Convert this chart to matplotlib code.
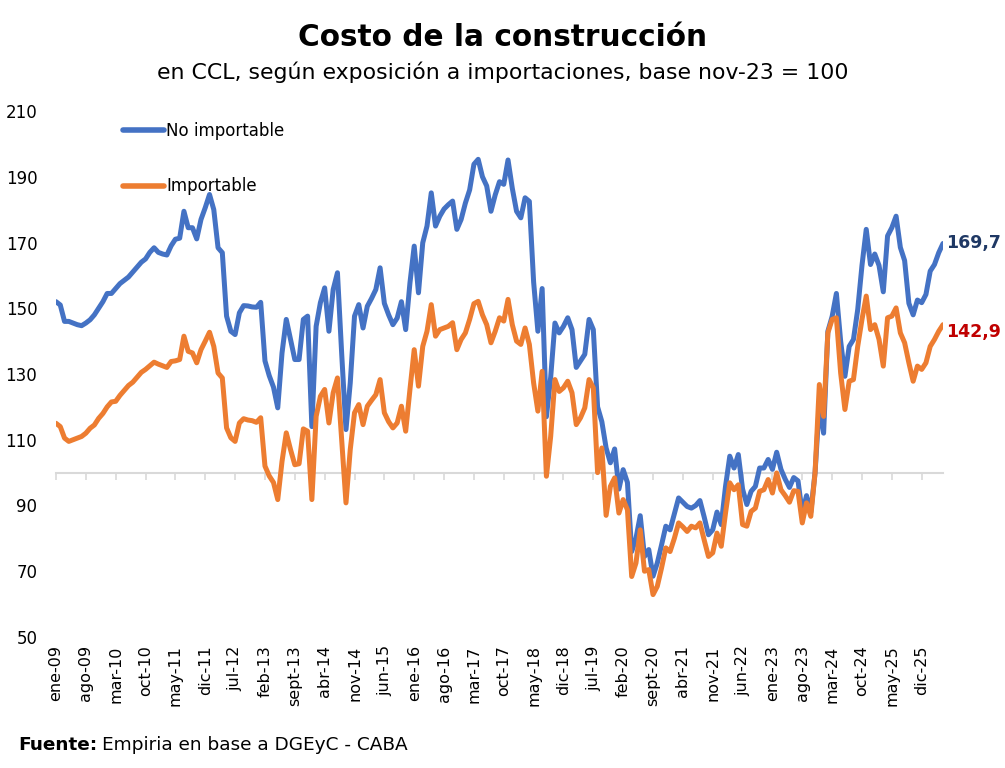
import matplotlib
matplotlib.use("Agg")
import matplotlib.pyplot as plt
import numpy as np

# ---------------- data (monthly, ene-09 .. may-26) ----------------
no_importable = [
    152, 151, 146, 146, 145.5, 145, 144.7, 145.5, 146.5, 148, 150, 152,            # 2009
    154.5, 154.5, 156, 157.5, 158.5, 159.5, 161, 162.5, 164, 165, 167, 168.4,      # 2010
    167, 166.5, 166.2, 169, 171, 171.3, 179.5, 174.5, 174.5, 171.1, 177, 180.6,    # 2011
    184.6, 180, 168.4, 166.9, 147.6, 143, 142, 148.6, 150.8, 150.7, 150.4, 150.3,  # 2012
    151.8, 134, 129.5, 126, 119.7, 136.4, 146.6, 140.5, 134.4, 134.4, 146.6, 147.6,  # 2013
    114, 144.5, 151.7, 156.2, 143, 155.7, 160.8, 136, 113.1, 127.3, 147.6, 151.1,  # 2014
    144, 150.6, 153, 155.7, 162.3, 151.5, 148, 145, 147, 152, 143.5, 157.7,        # 2015
    168.9, 154.7, 169.9, 175, 185.1, 175, 178, 180.2, 181.5, 182.6, 174, 177,      # 2016
    182, 186, 193.8, 195.3, 190, 187.2, 179.5, 184.5, 188.5, 187.7, 195.1, 186.5,  # 2017
    179.5, 177.5, 183.6, 182.5, 158, 143, 156, 117, 129, 145.5, 142.5, 144.5,      # 2018
    147.1, 143.5, 132, 134, 136, 146.6, 143.5, 120, 115.5, 107.5, 103, 107.2,      # 2019
    95, 100.9, 97, 76, 80, 86.9, 74.5, 76.6, 68.5, 72.5, 78, 83.7,                 # 2020
    82.6, 87.5, 92.3, 91, 89.7, 89.2, 90, 91.5, 86.5, 81.1, 82.6, 88,              # 2021
    84.2, 95.8, 105, 101.4, 105.5, 95, 90.3, 94.3, 95.8, 101.4, 101.4, 104,        # 2022
    101, 106.2, 101, 98, 95.5, 98.5, 97.5, 87.7, 93, 88, 100, 121,                 # 2023
    112, 143, 147.5, 154.5, 140, 129.3, 138.4, 140.5, 149.6, 163, 174, 163.3,      # 2024
    166.5, 163, 155, 172, 174.5, 178, 168.5, 164.5, 151.5, 148, 152.5, 151.7,      # 2025
    154.2, 161.3, 163.3, 166.9, 169.7,                                             # 2026
]
importable = [
    115, 114, 110.5, 109.5, 110, 110.5, 111, 112, 113.5, 114.5, 116.5, 118,
    120, 121.5, 121.7, 123.5, 125, 126.5, 127.5, 129, 130.5, 131.4, 132.5, 133.6,
    133, 132.5, 132, 133.8, 134, 134.4, 141.5, 136.9, 136.4, 133.4, 137.4, 140,
    142.7, 138.4, 130.3, 128.8, 113.6, 110.6, 109.5, 115.1, 116.4, 116, 115.8, 115.3,
    116.7, 102, 99, 97, 91.8, 103.4, 112.1, 107, 102.4, 102.7, 113.3, 112.6,
    91.8, 117.1, 123.2, 125.3, 115.1, 124.3, 128.8, 110, 90.8, 107, 118.2, 120.7,
    114.6, 120.2, 122, 123.7, 128.3, 118.2, 115.5, 113.6, 115.1, 120.2, 112.6, 125.3,
    137.4, 126.3, 138.4, 143, 151.1, 141.5, 143.5, 144, 144.5, 145.6, 137.4, 140.5,
    142.5, 146.6, 151.4, 152.1, 148, 145, 139.5, 143, 147.1, 146.1, 152.7, 145,
    140, 139, 144, 139, 127.3, 118.7, 130.8, 98.9, 111, 128.3, 124.7, 125.8,
    127.8, 124.3, 114.6, 116.7, 119.7, 128.3, 125.8, 100, 107.5, 87, 95.8, 98.4,
    87.7, 91.8, 88.7, 68.4, 72.5, 82.6, 70, 70.5, 62.9, 65.4, 71, 77.1,
    76, 80, 84.7, 83.5, 82.1, 83.7, 83.2, 84.7, 79.5, 74.5, 75.6, 81.6,
    77.6, 87.7, 96.9, 94.8, 96.3, 84.2, 83.7, 88.2, 89.2, 94.3, 94.8, 97.9,
    93.8, 99.9, 94.8, 93, 91, 94.5, 94.3, 84.7, 90.8, 86.7, 100, 126.8,
    117.1, 142.5, 146.6, 147.1, 130.3, 119.2, 127.8, 128.3, 138.4, 146.6, 153.7, 143.5,
    145, 140.5, 132.4, 147.1, 147.6, 150.1, 142.5, 139.5, 133.4, 127.8, 132.4, 131.4,
    133.4, 138.4, 140.5, 143, 145.0,
]
tick_labels = ["ene-09", "ago-09", "mar-10", "oct-10", "may-11", "dic-11", "jul-12",
               "feb-13", "sept-13", "abr-14", "nov-14", "jun-15", "ene-16", "ago-16",
               "mar-17", "oct-17", "may-18", "dic-18", "jul-19", "feb-20", "sept-20",
               "abr-21", "nov-21", "jun-22", "ene-23", "ago-23", "mar-24", "oct-24",
               "may-25", "dic-25"]
tick_step = 7
last_labels = ["169,7", "142,9"]
last_label_values = [169.7, 142.9]
series_names = ["No importable", "Importable"]
y_ticks = list(range(50, 211, 20))

# ---------------- figure ----------------
BLUE = "#4472C4"
ORANGE = "#ED7D31"
GRAY = "#D9D9D9"

fig = plt.figure(figsize=(10.05, 7.68), dpi=100)
ax = fig.add_axes([56 / 1005, 1 - 637 / 768, (943 - 56) / 1005, (637 - 111) / 768])

x = np.arange(len(no_importable))
ax.plot(x, no_importable, color=BLUE, lw=3.6, solid_capstyle="round",
        solid_joinstyle="round", label=series_names[0], zorder=3)
ax.plot(x, importable, color=ORANGE, lw=3.6, solid_capstyle="round",
        solid_joinstyle="round", label=series_names[1], zorder=3)

ax.set_xlim(0, len(no_importable) - 1)
ax.set_ylim(50, 210)
ax.set_yticks(y_ticks)
ax.tick_params(axis="y", length=0, pad=13.5, labelsize=12, labelcolor="#000000")
for lab in ax.get_yticklabels():
    lab.set_horizontalalignment("right")

tick_pos = np.arange(0, tick_step * len(tick_labels), tick_step)
ax.set_xticks(tick_pos)
ax.set_xticklabels(tick_labels, rotation=90, fontsize=11.5)
ax.tick_params(axis="x", length=0, pad=6)

for s in ax.spines.values():
    s.set_visible(False)

# horizontal category axis crossing at 100
sec = ax.secondary_xaxis((100 - 50) / (210 - 50))
sec.set_xticks(tick_pos)
sec.tick_params(axis="x", length=5, width=1.2, color=GRAY, direction="out",
                labelbottom=False, labeltop=False)
for name, s in sec.spines.items():
    if name == "bottom":
        s.set_color(GRAY)
        s.set_linewidth(1.5)
    else:
        s.set_visible(False)

# legend
leg = ax.legend(loc="upper left", bbox_to_anchor=(0.062, 1.003), frameon=False,
                fontsize=12, handlelength=2.45, handletextpad=0.1,
                labelspacing=2.25, borderaxespad=0.35)
for line in leg.get_lines():
    line.set_linewidth(4)

# end labels
ax.text(len(no_importable) - 1 + 0.8, last_label_values[0], last_labels[0],
        color="#1F3864", fontsize=12.5, fontweight="bold", va="center", ha="left")
ax.text(len(importable) - 1 + 0.8, last_label_values[1], last_labels[1],
        color="#C00000", fontsize=12.5, fontweight="bold", va="center", ha="left")

# titles
fig.text(0.5, 1 - 37 / 768, "Costo de la construcción", ha="center", va="center",
         fontsize=21.3, fontweight="bold")
fig.text(0.5, 1 - 72 / 768,
         "en CCL, según exposición a importaciones, base nov-23 = 100",
         ha="center", va="center", fontsize=15.8)

# source
r = fig.canvas.get_renderer()
t1 = fig.text(18 / 1005, 1 - 745 / 768, "Fuente:", fontweight="bold", fontsize=13.3,
              ha="left", va="center")
bb = t1.get_window_extent(renderer=r)
fig.text((bb.x1 + 5) / 1005, 1 - 745 / 768, "Empiria en base a DGEyC - CABA",
         fontsize=13.3, ha="left", va="center")

fig.savefig("out.png", dpi=100)
